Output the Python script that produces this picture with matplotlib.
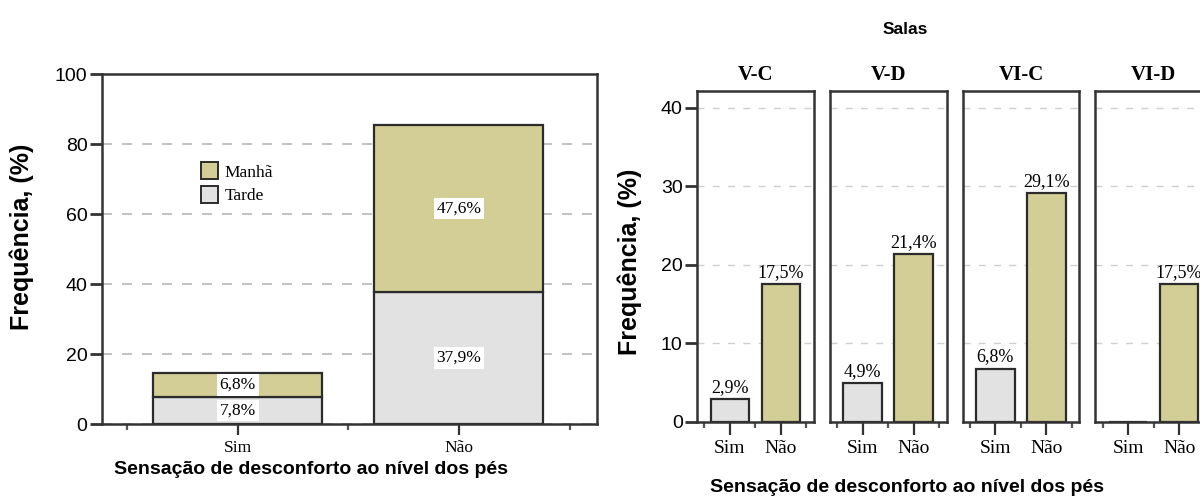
import matplotlib
matplotlib.use("Agg")
import matplotlib.pyplot as plt
from matplotlib.patches import Patch

# data
categories = ["Sim", "Não"]
tarde = [7.8, 37.9]
manha = [6.8, 47.6]

salas = ["V-C", "V-D", "VI-C", "VI-D"]
sala_sim = [2.9, 4.9, 6.8, 0.0]
sala_nao = [17.5, 21.4, 29.1, 17.5]

KHAKI = "#d3ce96"
GRAY = "#e2e2e2"
EDGE = "#2b2b2b"
SANS = "Liberation Sans"
SERIF = "Liberation Serif"

W, H = 1200, 497
fig = plt.figure(figsize=(12, 4.97), dpi=100)


def px_axes(x0, y0, x1, y1):
    # pixel box -> figure fraction
    return fig.add_axes([x0 / W, 1 - y1 / H, (x1 - x0) / W, (y1 - y0) / H])


def style_axes(ax):
    for s in ax.spines.values():
        s.set_linewidth(1.8)
        s.set_color("#333333")
    ax.set_axisbelow(True)
    ax.set_xticks([0, 1])
    ax.set_xticks([-0.5, 0.5, 1.5], minor=True)
    ax.tick_params(axis="x", which="major", length=8, width=1.6, color="#333333", pad=3)
    ax.tick_params(axis="x", which="minor", length=4, width=1.6, color="#555555")


# ---------- left chart ----------
ax1 = px_axes(102, 74.3, 597, 424.3)
x = range(len(categories))
ax1.bar(x, tarde, width=0.764, color=GRAY, edgecolor=EDGE, linewidth=1.6)
ax1.bar(x, manha, width=0.764, bottom=tarde, color=KHAKI, edgecolor=EDGE, linewidth=1.6)
ax1.set_xlim(-0.613, 1.624)
ax1.set_ylim(0, 100)
ax1.set_yticks([0, 20, 40, 60, 80, 100])
ax1.yaxis.grid(True, linestyle=(0, (6, 6)), color="#b8b8b8", linewidth=1.2)
style_axes(ax1)
ax1.tick_params(axis="y", length=8.5, width=2, color="#333333", pad=2)
ax1.set_xticklabels(categories, fontfamily=SERIF, fontsize=12.5)
for lab in ax1.get_yticklabels():
    lab.set_fontfamily(SANS)
    lab.set_fontsize(14)

for i in x:
    ax1.text(i, tarde[i] / 2, f"{tarde[i]:.1f}%".replace(".", ","), ha="center", va="center",
             fontfamily=SERIF, fontsize=12.5,
             bbox=dict(facecolor="white", edgecolor="none", pad=2))
    ax1.text(i, tarde[i] + manha[i] / 2, f"{manha[i]:.1f}%".replace(".", ","), ha="center",
             va="center", fontfamily=SERIF, fontsize=12.5,
             bbox=dict(facecolor="white", edgecolor="none", pad=2))

handles = [Patch(facecolor=KHAKI, edgecolor=EDGE, linewidth=1.4, label="Manhã"),
           Patch(facecolor=GRAY, edgecolor=EDGE, linewidth=1.4, label="Tarde")]
ax1.legend(handles=handles, loc="upper left", bbox_to_anchor=(0.185, 0.768), frameon=False,
           handlelength=1.0, handleheight=1.1, handletextpad=0.4, labelspacing=0.3,
           prop={"family": SERIF, "size": 12.5}, borderaxespad=0)

fig.text(22 / W, 1 - 237 / H, "Frequência, (%)", rotation=90, ha="center", va="center",
         fontfamily=SANS, fontweight="bold", fontsize=18)
fig.text(311 / W, 1 - 470 / H, "Sensação de desconforto ao nível dos pés", ha="center",
         va="center", fontfamily=SANS, fontweight="bold", fontsize=14)

# ---------- right chart (panels) ----------
panel_w = 116.7
gap = 16
for k, sala in enumerate(salas):
    x0 = 697.3 + k * (panel_w + gap)
    ax = px_axes(x0, 91, x0 + panel_w, 422)
    ax.bar([0], [sala_sim[k]], width=0.755, color=GRAY, edgecolor=EDGE, linewidth=1.6)
    ax.bar([1], [sala_nao[k]], width=0.755, color=KHAKI, edgecolor=EDGE, linewidth=1.6)
    ax.set_xlim(-0.64, 1.647)
    ax.set_ylim(0, 42.1)
    ax.set_yticks([0, 10, 20, 30, 40])
    ax.yaxis.grid(True, linestyle=(0, (5, 6)), color="#cfcfcf", linewidth=1.0)
    style_axes(ax)
    ax.tick_params(axis="x", which="major", length=9, pad=4)
    ax.set_xticklabels(categories, fontfamily=SERIF, fontsize=14)
    if k == 0:
        ax.tick_params(axis="y", length=8.5, width=2, color="#333333", pad=2)
        for lab in ax.get_yticklabels():
            lab.set_fontfamily(SANS)
            lab.set_fontsize(14)
    else:
        ax.tick_params(axis="y", length=0, labelleft=False)
    vals = [sala_sim[k], sala_nao[k]]
    for i, v in enumerate(vals):
        if v > 0:
            ax.text(i, v + 0.4, f"{v:.1f}%".replace(".", ","), ha="center", va="bottom",
                    fontfamily=SERIF, fontsize=13)
    ax.set_title(sala, fontfamily=SERIF, fontweight="bold", fontsize=15, pad=8)

fig.text(905 / W, 1 - 29 / H, "Salas", ha="center", va="center",
         fontfamily=SANS, fontweight="bold", fontsize=12.5)
fig.text(630 / W, 1 - 262 / H, "Frequência, (%)", rotation=90, ha="center", va="center",
         fontfamily=SANS, fontweight="bold", fontsize=18)
fig.text(907 / W, 1 - 488 / H, "Sensação de desconforto ao nível dos pés", ha="center",
         va="center", fontfamily=SANS, fontweight="bold", fontsize=14)

fig.savefig("out.png", dpi=100)
